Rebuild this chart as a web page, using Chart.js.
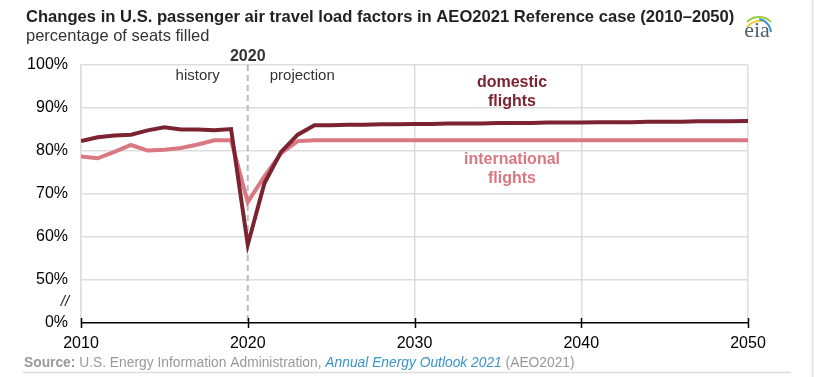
<!DOCTYPE html>
<html>
<head>
<meta charset="utf-8">
<script src="https://cdn.jsdelivr.net/npm/chart.js@4/dist/chart.umd.min.js"></script>
<style>
  html, body { margin: 0; padding: 0; background: #fff; }
  #wrap { position: relative; width: 814px; height: 377px; }
</style>
</head>
<body>
<div id="wrap"><canvas id="myChart" width="814" height="377"></canvas></div>
<script>
var years = [2010, 2011, 2012, 2013, 2014, 2015, 2016, 2017, 2018, 2019,
             2020, 2021, 2022, 2023, 2024, 2025, 2026, 2027, 2028, 2029,
             2030, 2031, 2032, 2033, 2034, 2035, 2036, 2037, 2038, 2039,
             2040, 2041, 2042, 2043, 2044, 2045, 2046, 2047, 2048, 2049, 2050];
var domestic = [82.3, 83.2, 83.6, 83.8, 84.8, 85.5, 85.0, 85.0, 84.8, 85.1,
                58.2, 72.5, 79.8, 83.8, 86.0, 86.0, 86.1, 86.1, 86.2, 86.2,
                86.3, 86.3, 86.4, 86.4, 86.4, 86.5, 86.5, 86.5, 86.6, 86.6,
                86.6, 86.7, 86.7, 86.7, 86.8, 86.8, 86.8, 86.9, 86.9, 86.9, 87.0];
var international = [78.7, 78.3, 79.8, 81.4, 80.1, 80.3, 80.7, 81.5, 82.5, 82.5,
                     68.1, 74.1, 79.5, 82.3, 82.5, 82.5, 82.5, 82.5, 82.5, 82.5,
                     82.5, 82.5, 82.5, 82.5, 82.5, 82.5, 82.5, 82.5, 82.5, 82.5,
                     82.5, 82.5, 82.5, 82.5, 82.5, 82.5, 82.5, 82.5, 82.5, 82.5, 82.5];
var yTicks = [40, 50, 60, 70, 80, 90, 100];   // 40 stands in for the broken-axis 0%
var xTicks = [2010, 2020, 2030, 2040, 2050];

var domColor = '#7b2331';
var intColor = '#d97782';
var font = '"Liberation Sans", Arial, sans-serif';

function pts(vals) {
    return years.map(function (y, i) { return { x: y, y: vals[i] }; });
}

var extras = {
    id: 'extras',
    beforeDatasetsDraw: function (chart) {
        var c = chart.ctx, a = chart.chartArea;
        var x = chart.scales.x.getPixelForValue(2020);
        c.save();
        c.strokeStyle = '#bbbbbb';
        c.lineWidth = 2;
        c.setLineDash([6, 4]);
        c.beginPath();
        c.moveTo(x, a.top);
        c.lineTo(x, a.bottom);
        c.stroke();
        c.restore();
    },
    afterDraw: function (chart) {
        var c = chart.ctx, a = chart.chartArea, sx = chart.scales.x;
        c.save();
        // decade tick marks crossing the axis
        c.strokeStyle = '#000';
        c.lineWidth = 1.5;
        xTicks.forEach(function (t) {
            var x = Math.round(sx.getPixelForValue(t)) + 0.5;
            c.beginPath();
            c.moveTo(x, a.bottom - 5);
            c.lineTo(x, a.bottom + 5);
            c.stroke();
        });

        // title + subtitle
        c.textBaseline = 'middle';
        c.textAlign = 'left';
        c.fillStyle = '#222';
        c.font = 'bold 16.6px ' + font;
        c.fillText('Changes in U.S. passenger air travel load factors in AEO2021 Reference case (2010\u20132050)', 26, 17);
        c.fillStyle = '#333';
        c.font = '16.5px ' + font;
        c.fillText('percentage of seats filled', 26, 36);

        // eia logo
        c.lineWidth = 1.8;
        c.strokeStyle = '#9ccb3b';
        c.beginPath(); c.arc(759, 34, 17, 1.25 * Math.PI, 1.75 * Math.PI); c.stroke();
        c.strokeStyle = '#f2c420';
        c.beginPath(); c.arc(760, 37, 16, 1.2 * Math.PI, 1.55 * Math.PI); c.stroke();
        c.strokeStyle = '#2a8fcc';
        c.beginPath(); c.arc(757, 33, 14, 1.55 * Math.PI, 1.98 * Math.PI); c.stroke();
        c.fillStyle = '#4e5f6e';
        c.font = '22px "Liberation Serif", "DejaVu Serif", serif';
        c.textAlign = 'center';
        c.fillText('eia', 757, 31);

        // period annotations
        var x20 = sx.getPixelForValue(2020);
        c.fillStyle = '#333';
        c.font = 'bold 16px ' + font;
        c.fillText('2020', x20, 57);
        c.font = '15px ' + font;
        c.textAlign = 'right';
        c.fillText('history', x20 - 28, 76);
        c.textAlign = 'left';
        c.fillText('projection', x20 + 22, 76);

        // series labels
        c.textAlign = 'center';
        c.font = 'bold 16px ' + font;
        c.fillStyle = domColor;
        c.fillText('domestic', 512, 83);
        c.fillText('flights', 512, 102);
        c.fillStyle = intColor;
        c.fillText('international', 512, 160);
        c.fillText('flights', 512, 179);

        // axis break mark
        c.fillStyle = '#222';
        c.font = 'italic 15px ' + font;
        c.fillText('//', 65, 302);

        // source line
        c.textAlign = 'left';
        var x = 24, y = 363;
        var parts = [
            ['bold 13.8px ', '#999', 'Source:'],
            ['13.8px ', '#999', ' U.S. Energy Information Administration, '],
            ['italic 13.8px ', '#3a93c9', 'Annual Energy Outlook 2021'],
            ['13.8px ', '#999', ' (AEO2021)']
        ];
        parts.forEach(function (p) {
            c.font = p[0] + font;
            c.fillStyle = p[1];
            c.fillText(p[2], x, y);
            x += c.measureText(p[2]).width;
        });
        c.strokeStyle = '#dddddd';
        c.lineWidth = 1.5;
        c.beginPath(); c.moveTo(23, 372.5); c.lineTo(791, 372.5); c.stroke();
        c.beginPath(); c.moveTo(812.5, 0); c.lineTo(812.5, 377); c.stroke();
        c.restore();
    }
};

var options = {
    type: 'line',
    data: {
        datasets: [{
            label: 'domestic flights',
            data: pts(domestic),
            borderColor: domColor,
            borderWidth: 4
        }, {
            label: 'international flights',
            data: pts(international),
            borderColor: intColor,
            borderWidth: 4
        }]
    },
    options: {
        responsive: false,
        animation: false,
        devicePixelRatio: 1,
        layout: { padding: { top: 65, right: 66, left: 0, bottom: 0 } },
        elements: { point: { radius: 0 }, line: { tension: 0, borderJoinStyle: 'miter' } },
        plugins: { legend: { display: false }, tooltip: { enabled: false } },
        scales: {
            x: {
                type: 'linear',
                min: 2010,
                max: 2050,
                afterBuildTicks: function (s) { s.ticks = xTicks.map(function (v) { return { value: v }; }); },
                afterFit: function (s) { s.height = 54; },
                ticks: {
                    padding: 11,
                    color: '#000',
                    font: { family: font, size: 16 },
                    maxRotation: 0,
                    callback: function (v) { return String(v); }
                },
                grid: {
                    drawTicks: false,
                    color: function (ctx) { return ctx.tick && ctx.tick.value === 2020 ? 'rgba(0,0,0,0)' : '#dddddd'; },
                    lineWidth: 1.5
                },
                border: { color: '#000', width: 1.5 }
            },
            y: {
                min: 40,
                max: 100,
                afterBuildTicks: function (s) { s.ticks = yTicks.map(function (v) { return { value: v }; }); },
                afterFit: function (s) { s.width = 81; },
                ticks: {
                    padding: 13,
                    color: '#000',
                    font: { family: font, size: 16 },
                    callback: function (v) { return v === 40 ? '0%' : v + '%'; }
                },
                grid: {
                    drawTicks: false,
                    color: function (ctx) { return ctx.tick && ctx.tick.value === 40 ? 'rgba(0,0,0,0)' : '#dddddd'; },
                    lineWidth: 1.5
                },
                border: { color: '#dddddd', width: 1.5 }
            }
        }
    },
    plugins: [extras]
};

var ctx = document.getElementById('myChart');
var chart = new Chart(ctx, options);
</script>
</body>
</html>
